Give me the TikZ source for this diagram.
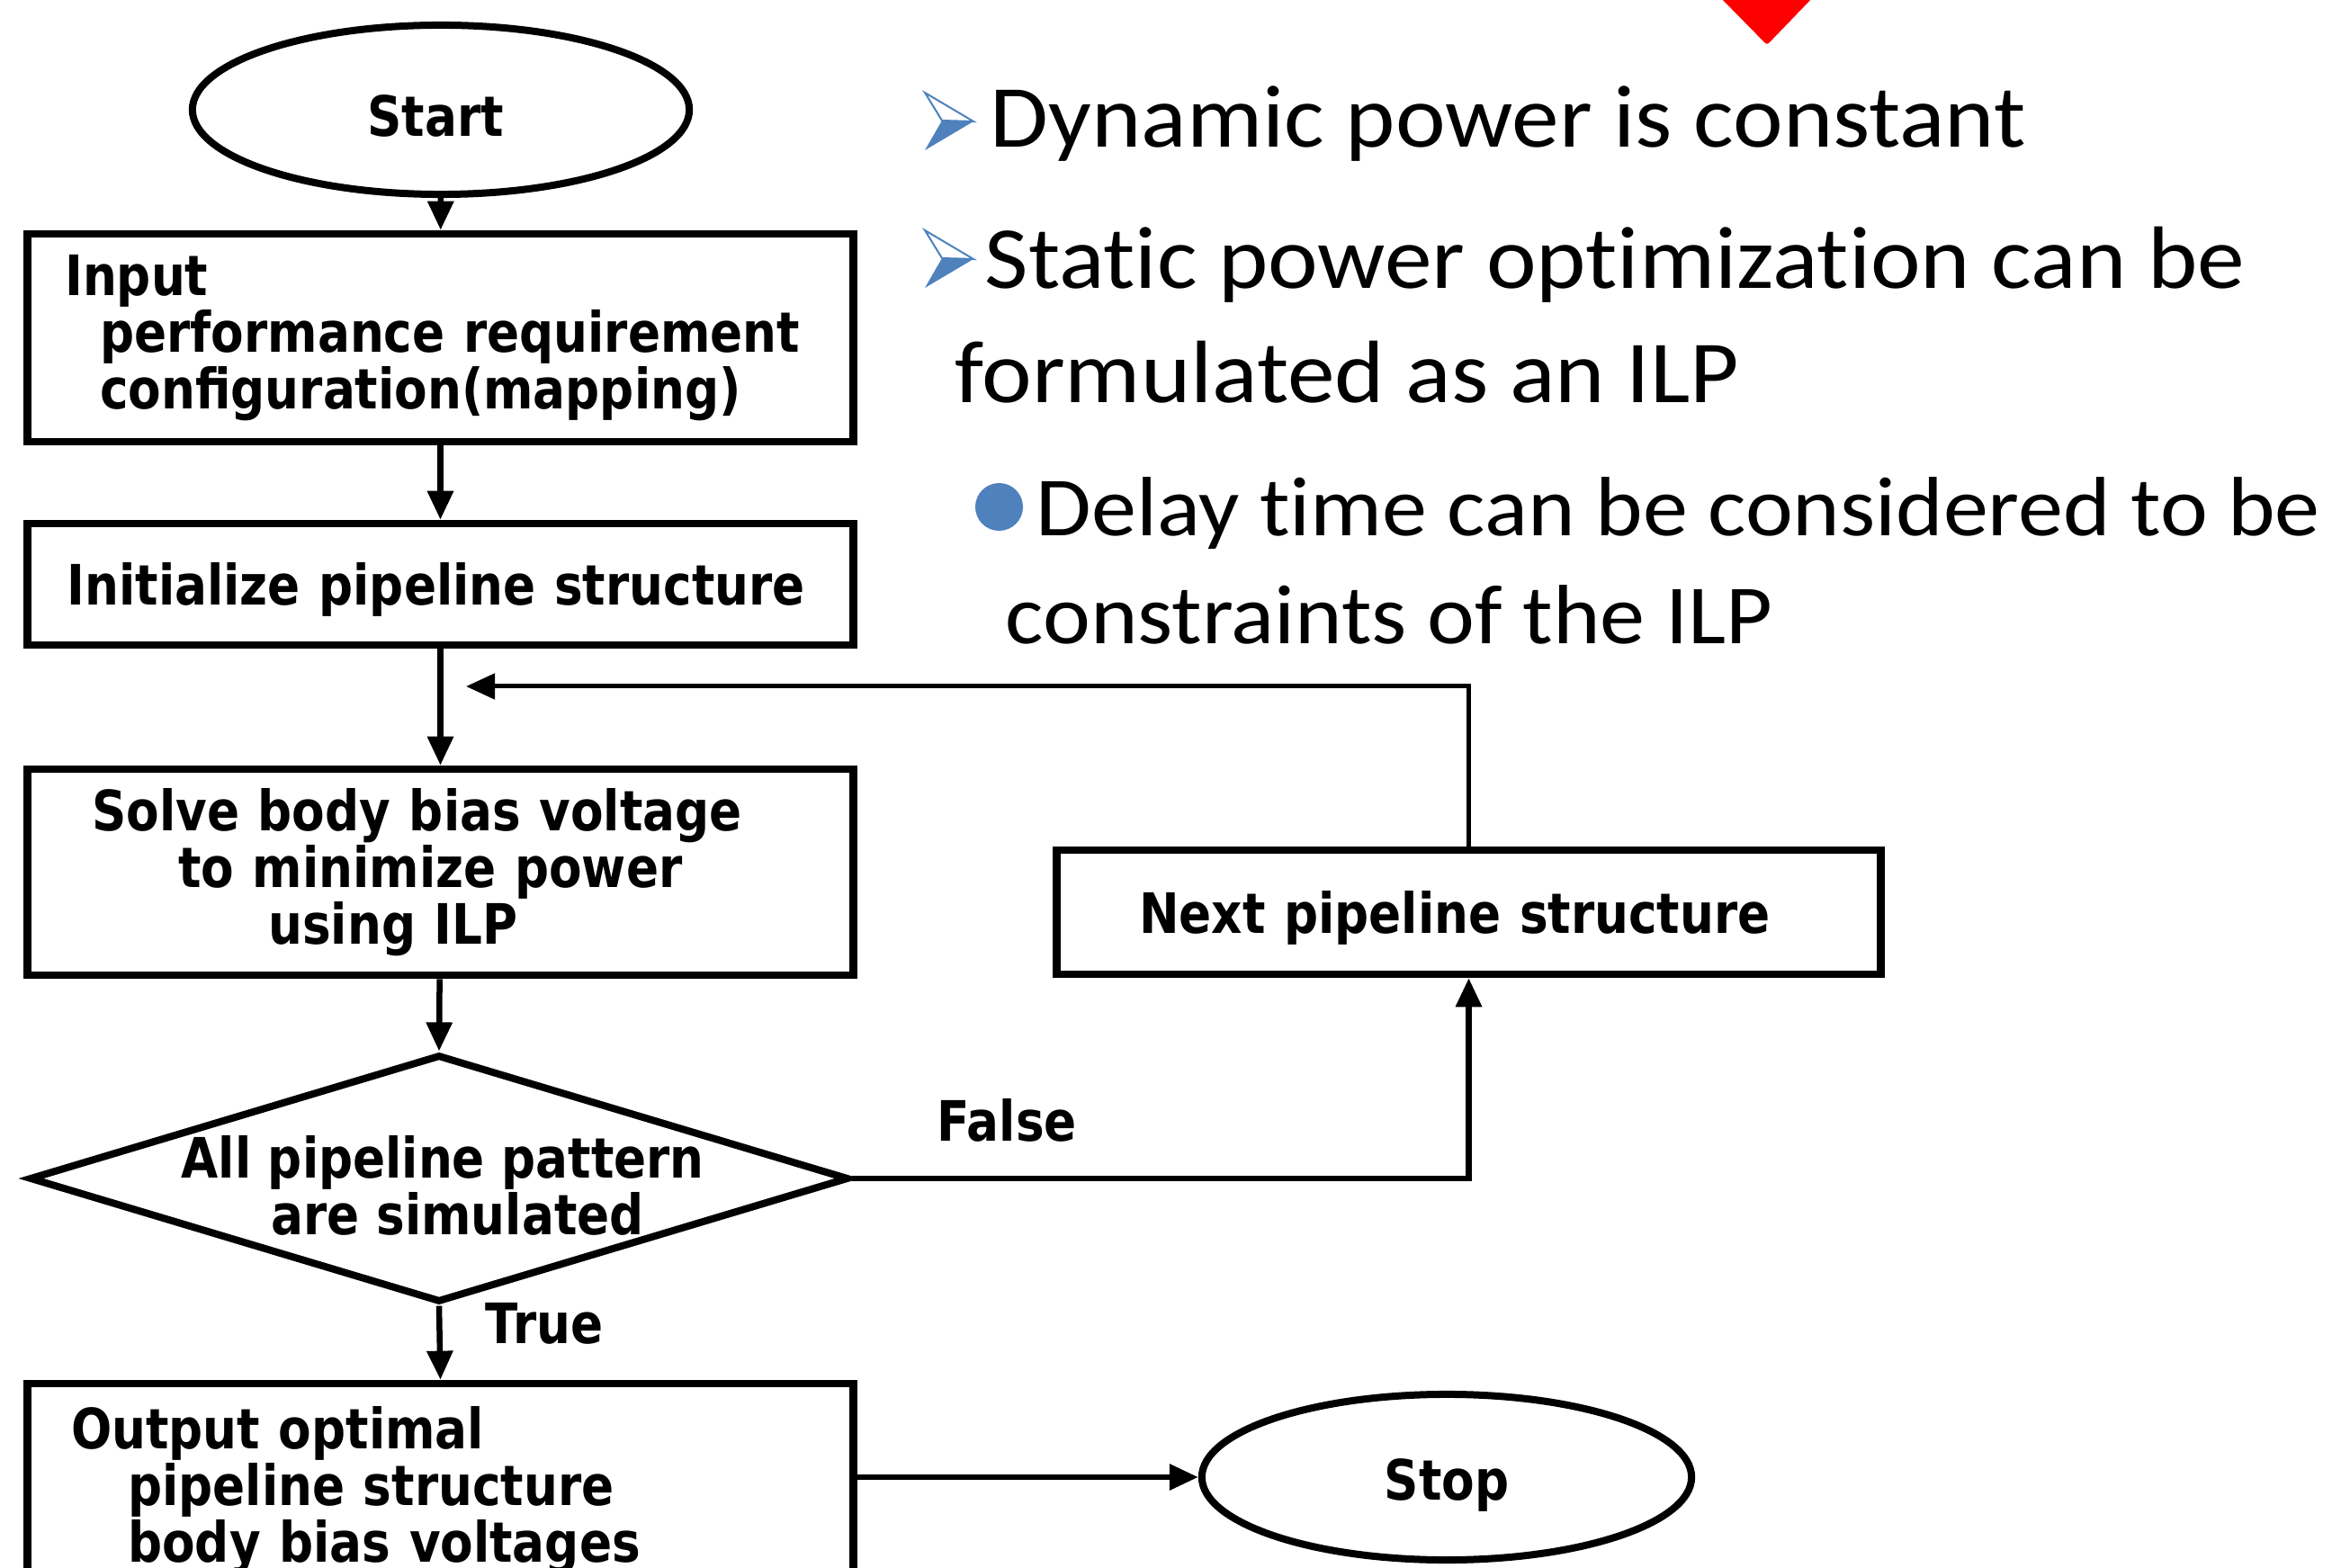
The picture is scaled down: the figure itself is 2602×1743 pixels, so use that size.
\documentclass[tikz,border=0pt]{standalone}
\usepackage{fontspec}
\usetikzlibrary{shapes.geometric,arrows.meta}
\newfontfamily\fcfont[FakeStretch=0.86]{DejaVu Sans}
\newfontfamily\bulfont[FakeStretch=1.07,Ligatures=NoCommon]{Carlito}
\definecolor{bulletblue}{RGB}{79,129,189}
\definecolor{markred}{RGB}{255,0,0}

\begin{document}
\begin{tikzpicture}[x=0.01cm,y=-0.01cm,
  chart/.style={font={\fcfont\bfseries\fontsize{17.6pt}{17.9pt}\selectfont}},
  procbox/.style={chart, draw, line width=0.085cm, rectangle, inner sep=0pt},
  terminal/.style={chart, draw, line width=0.08cm, ellipse, inner sep=0pt},
  decision/.style={draw, line width=0.08cm, diamond, inner sep=0pt},
  flow/.style={line width=0.065cm, -{Triangle[length=0.32cm,width=0.28cm]}},
  edgelabel/.style={chart, inner sep=0pt, anchor=base west},
  bullettext/.style={font={\bulfont\fontsize{28pt}{30pt}\selectfont}, inner sep=0pt, anchor=base west},
  subtext/.style={font={\bulfont\fontsize{26.6pt}{30pt}\selectfont}, inner sep=0pt, anchor=base west}
]
\path[use as bounding box] (0,0) rectangle (2602,1743);
\clip (0,0) rectangle (2602,1743);

% red marker at the top edge
\fill[markred, rounded corners=0.03cm] (1910,-5) -- (2017,-5) -- (1964,50) -- cycle;

% flowchart nodes
\node[terminal, minimum width=5.52cm, minimum height=1.88cm, text height=0.59cm, text depth=0cm]
  (start) at (490,122) {\hspace*{-0.12cm}Start};
\node[procbox, minimum width=9.17cm, minimum height=2.31cm, text width=8.34cm, align=left]
  (input) at (489.5,375.5)
  {Input\\\hspace*{0.39cm}performance requirement\\\hspace*{0.39cm}configuration(mapping)};
\node[procbox, minimum width=9.17cm, minimum height=1.35cm, text width=8.29cm, align=left,
  text height=0.61cm, text depth=0.15cm]
  (init) at (489.5,649.5) {Initialize pipeline structure};
\node[procbox, minimum width=9.17cm, minimum height=2.29cm, text width=7.74cm, align=left]
  (solve) at (489.5,969.5)
  {Solve body bias voltage\\\hspace*{0.96cm}to minimize power\\\hspace*{1.96cm}using ILP};
\node[decision, minimum width=9.1cm, minimum height=2.75cm] (decide) at (488,1310) {};
\node[inner sep=0pt, align=left, anchor=west,
  font={\fcfont\bfseries\fontsize{17.6pt}{15.6pt}\selectfont}] (decidetext) at (201,1318)
  {All pipeline pattern\\\hspace*{1.0cm}are simulated};
\node[procbox, minimum width=9.15cm, minimum height=1.38cm, text width=7.32cm, align=left,
  text height=0.61cm, text depth=0.15cm]
  (next) at (1632.5,1014) {Next pipeline structure};
\node[procbox, minimum width=9.17cm, minimum height=2.38cm, text width=8.2cm, align=left]
  (output) at (489.5,1657)
  {Output optimal\\\hspace*{0.63cm}pipeline structure\\\hspace*{0.63cm}body bias voltages};
\node[terminal, minimum width=5.44cm, minimum height=1.84cm, text height=0.63cm, text depth=0.13cm]
  (stop) at (1608,1642) {Stop};

% connectors
\coordinate (loopend) at (518,763);
\draw[flow] (start) -- (input);
\draw[flow] (input) -- (init);
\draw[flow] (init) -- (solve);
\draw[flow] (solve) -- (decide.north);
\draw[flow] (decide.south) -- (output.north);
\draw[flow] (decide.east) -| (next.south);
\draw[flow, line width=0.05cm] (next.north) |- (loopend);
\draw[flow] (output.east |- stop.west) -- (stop.west);

\node[edgelabel] (falselabel) at (1041,1268) {False};
\node[edgelabel] (truelabel) at (539,1493) {True};

% bullet list
\foreach \dy in {0,153}{
  \fill[bulletblue] (1047,134+\dy) -- (1082,135+\dy) -- (1028,167+\dy) -- cycle;
  \draw[bulletblue, fill=white, line width=0.02cm, line join=miter]
    (1028,103+\dy) -- (1082,135+\dy) -- (1047,134+\dy) -- cycle;
}
\fill[bulletblue] (1110.5,563.5) circle[radius=0.265cm];

\node[bullettext] (line1) at (1100,164) {Dynamic power is constant};
\node[bullettext] (line2) at (1094,321) {Static power optimization can be};
\node[bullettext] (line3) at (1061,448) {formulated as an ILP};
\node[subtext] (line4) at (1151,596) {Delay time can be considered to be};
\node[subtext] (line5) at (1117,716) {constraints of the ILP};
\end{tikzpicture}
\end{document}
